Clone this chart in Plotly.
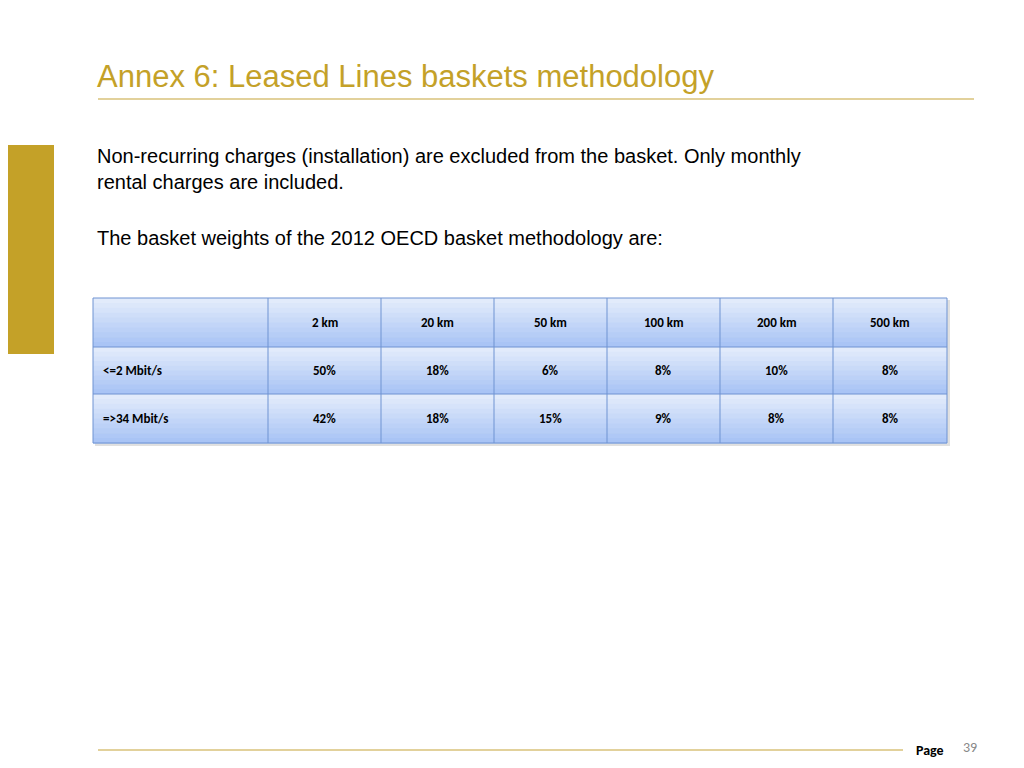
import plotly.graph_objects as go

columns = ["2 km", "20 km", "50 km", "100 km", "200 km", "500 km"]
rows = ["<=2 Mbit/s", "=>34 Mbit/s"]
weights_low = ["50%", "18%", "6%", "8%", "10%", "8%"]
weights_high = ["42%", "18%", "15%", "9%", "8%", "8%"]
values = [weights_low, weights_high]

GOLD = "#C4A128"
fig = go.Figure()
shapes = []
ann = []

def grad_rect(x0, x1, y0, y1, n=10):
    top = (230, 238, 252); bot = (166, 194, 245)
    h = (y1 - y0) / n
    for i in range(n):
        t = (i + 0.5) / n
        c = tuple(int(top[k] + (bot[k] - top[k]) * t) for k in range(3))
        shapes.append(dict(type="rect", x0=x0, x1=x1, y0=y0 + i * h, y1=y0 + (i + 1) * h + 0.6,
                           fillcolor="rgb(%d,%d,%d)" % c, line=dict(width=0), layer="below"))

xs = [85, 260, 373, 486, 599, 712, 825, 939]
ys = [290, 339, 386, 435]
# shadow
shapes.append(dict(type="rect", x0=87, x1=942, y0=292, y1=438, fillcolor="rgba(0,0,0,0.12)", line=dict(width=0), layer="below"))
for r in range(3):
    for c in range(7):
        grad_rect(xs[c], xs[c + 1], ys[r], ys[r + 1])
for x in xs:
    shapes.append(dict(type="line", x0=x, x1=x, y0=ys[0], y1=ys[-1], line=dict(color="#6f93d2", width=1)))
for y in ys:
    shapes.append(dict(type="line", x0=xs[0], x1=xs[-1], y0=y, y1=y, line=dict(color="#6f93d2", width=1)))

cf = dict(family="Calibri, Carlito, Lato, sans-serif", size=13, color="black")
for j, col in enumerate(columns):
    ann.append(dict(x=(xs[j + 1] + xs[j + 2]) / 2, y=(ys[0] + ys[1]) / 2, text="<b>%s</b>" % col, showarrow=False, font=cf))
for i, rlab in enumerate(rows):
    yc = (ys[i + 1] + ys[i + 2]) / 2
    ann.append(dict(x=xs[0] + 8, y=yc, text="<b>%s</b>" % rlab, showarrow=False, xanchor="left", font=cf))
    for j, v in enumerate(values[i]):
        ann.append(dict(x=(xs[j + 1] + xs[j + 2]) / 2, y=yc, text="<b>%s</b>" % v, showarrow=False, font=cf))

af = "Liberation Sans, Arial, sans-serif"
ann.append(dict(x=87, y=68, text="Annex 6: Leased Lines baskets methodology", showarrow=False, xanchor="left",
                font=dict(family=af, size=31, color=GOLD)))
ann.append(dict(x=87, y=161, text="Non-recurring charges (installation) are excluded from the basket. Only monthly<br>rental charges are included.",
                showarrow=False, xanchor="left", align="left", font=dict(family=af, size=20, color="black")))
ann.append(dict(x=87, y=230, text="The basket weights of the 2012 OECD basket methodology are:", showarrow=False, xanchor="left",
                font=dict(family=af, size=20, color="black")))
ann.append(dict(x=922, y=742, text="<b>Page</b>", showarrow=False, font=dict(family="Calibri, Carlito, Lato, sans-serif", size=14, color="black")))
ann.append(dict(x=962, y=739, text="39", showarrow=False, font=dict(family="Calibri, Carlito, Lato, sans-serif", size=14, color="#888888")))

shapes.append(dict(type="line", x0=90, x1=966, y0=91, y1=91, line=dict(color="#D8C27A", width=1.5)))
shapes.append(dict(type="rect", x0=0, x1=46, y0=137, y1=346, fillcolor=GOLD, line=dict(width=0)))
shapes.append(dict(type="line", x0=90, x1=895, y0=742, y1=742, line=dict(color="#D8C27A", width=1.5)))

fig.update_layout(width=1024, height=768, margin=dict(l=0, r=0, t=0, b=0), paper_bgcolor="white", plot_bgcolor="white",
                  xaxis=dict(range=[0, 1024], visible=False, fixedrange=True),
                  yaxis=dict(range=[768, 0], visible=False, fixedrange=True),
                  shapes=shapes, annotations=ann, showlegend=False)
fig.write_html("out.html", config={"displayModeBar": False})
